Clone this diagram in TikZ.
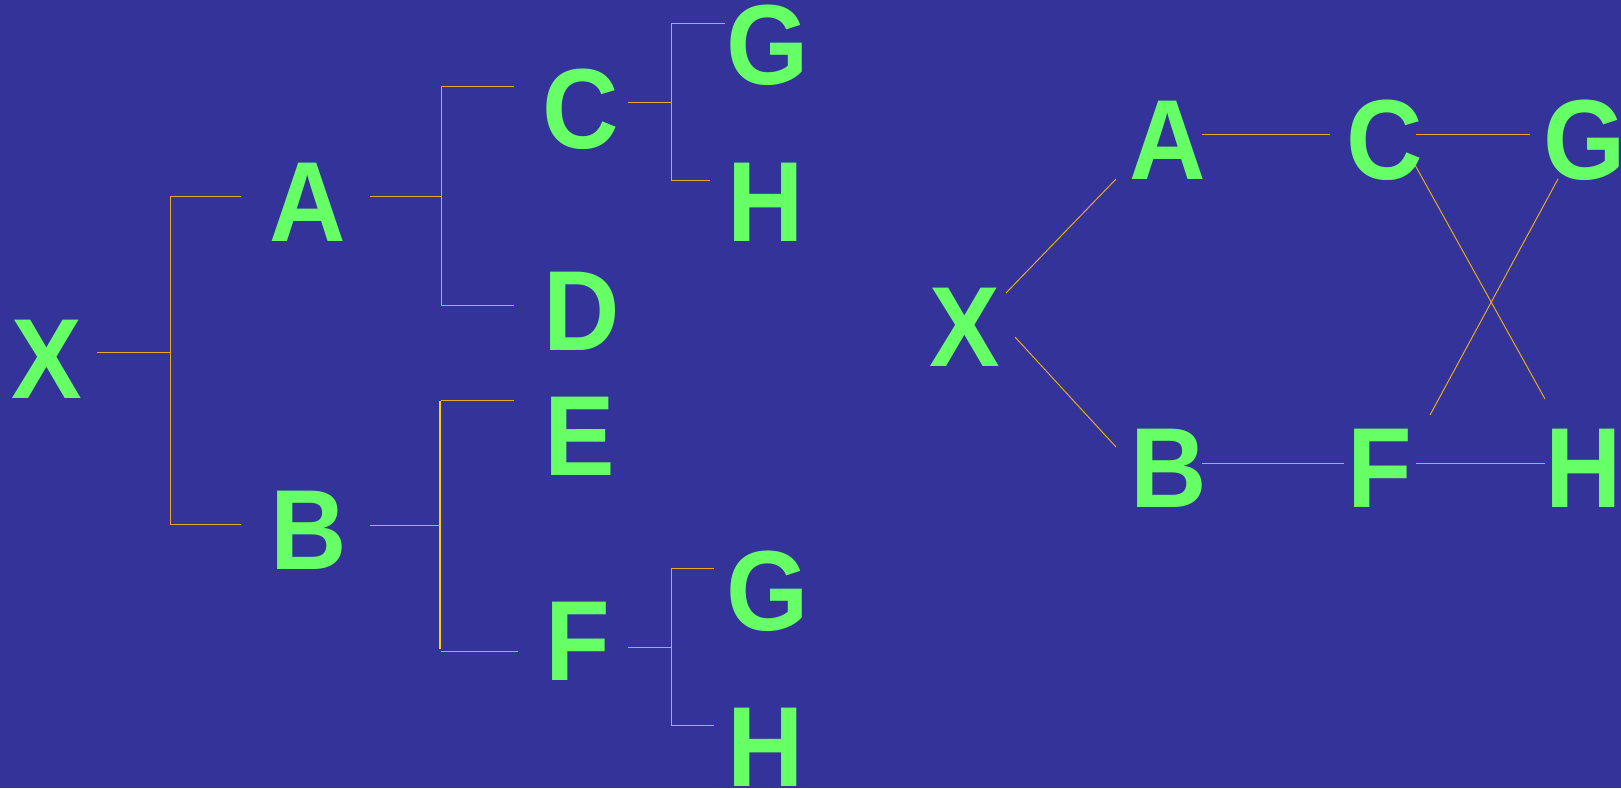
\documentclass[tikz,border=0pt]{standalone}
\usepackage{fontspec}
\setmainfont{Liberation Sans}
\definecolor{bgblue}{RGB}{51,51,153}
\definecolor{leaf}{RGB}{102,255,102}
\definecolor{wire}{RGB}{232,170,24}
\definecolor{wirebright}{RGB}{255,204,0}
% capitals set slightly taller than the font's own proportions
\newcommand{\tallcap}[1]{\scalebox{0.98}[1.055]{#1}}
\tikzset{
  letter/.style={text=leaf, font=\fontsize{108}{108}\selectfont\bfseries,
                 inner sep=0pt, outer sep=0pt, anchor=base},
  link/.style={draw=wire, line width=1pt},
  boldlink/.style={draw=wirebright, line width=2pt},
}
\begin{document}
\begin{tikzpicture}[x=1pt,y=-1pt]
\fill[bgblue] (0,0) rectangle (1621,788);
\useasboundingbox (0,0) rectangle (1621,788);

% ---------- bracket tree ----------
\node[letter] (lX)  at (47,398)  {\tallcap{X}};
\node[letter] (lA)  at (308,241) {\tallcap{A}};
\node[letter] (lB)  at (309,569) {\tallcap{B}};
\node[letter] (lC)  at (581,148) {\tallcap{C}};
\node[letter] (lD)  at (582,350) {\tallcap{D}};
\node[letter] (lE)  at (580,475) {\tallcap{E}};
\node[letter] (lF)  at (578,680) {\tallcap{F}};
\node[letter] (lG1) at (768,84)  {\tallcap{G}};
\node[letter] (lH1) at (766,241) {\tallcap{H}};
\node[letter] (lG2) at (768,630) {\tallcap{G}};
\node[letter] (lH2) at (766,786) {\tallcap{H}};

% junction points of the brackets
\coordinate (xOut) at (97,352);   \coordinate (xJ) at (170,352);
\coordinate (xTop) at (170,196);  \coordinate (xBot) at (170,524);
\coordinate (aIn)  at (241,196);  \coordinate (bIn)  at (241,524);

\coordinate (aOut) at (370,196);  \coordinate (aJ) at (441,196);
\coordinate (aTop) at (441,86);   \coordinate (aBot) at (441,305);
\coordinate (cIn)  at (514,86);   \coordinate (dIn)  at (514,305);

\coordinate (bOut) at (370,525);  \coordinate (bJ) at (440,525);
\coordinate (bTop) at (440,401);  \coordinate (bBot) at (440,649);
\coordinate (eFrom) at (441,400); \coordinate (eIn) at (514,400);
\coordinate (fFrom) at (441,651); \coordinate (fIn) at (518,651);

\coordinate (cOut) at (628,102);  \coordinate (cJ) at (671,102);
\coordinate (cTop) at (671,23);   \coordinate (cBot) at (671,180);
\coordinate (g1In) at (725,23);   \coordinate (h1In) at (710,180);

\coordinate (fOut) at (628,647);  \coordinate (fJ) at (671,647);
\coordinate (fTop) at (671,568);  \coordinate (fBot) at (671,725);
\coordinate (g2In) at (714,568);  \coordinate (h2In) at (714,725);

\draw[link] (xOut) -- (xJ);
\draw[link] (aIn) -- (xTop) -- (xBot) -- (bIn);

\draw[link] (aOut) -- (aJ);
\draw[link] (cIn) -- (aTop) -- (aBot) -- (dIn);

\draw[link] (bOut) -- (bJ);
\draw[boldlink] (bTop) -- (bBot);
\draw[link] (eFrom) -- (eIn);
\draw[link] (fFrom) -- (fIn);

\draw[link] (cOut) -- (cJ);
\draw[link] (g1In) -- (cTop) -- (cBot) -- (h1In);

\draw[link] (fOut) -- (fJ);
\draw[link] (g2In) -- (fTop) -- (fBot) -- (h2In);

% ---------- graph ----------
\node[letter] (rX) at (965,366)  {\tallcap{X}};
\node[letter] (rA) at (1168,179) {\tallcap{A}};
\node[letter] (rC) at (1385,179) {\tallcap{C}};
\node[letter] (rG) at (1585,179) {\tallcap{G}};
\node[letter] (rB) at (1169,507) {\tallcap{B}};
\node[letter] (rF) at (1380,507) {\tallcap{F}};
\node[letter] (rH) at (1584,507) {\tallcap{H}};

\coordinate (xa1) at (1006,293);  \coordinate (xa2) at (1116,179);
\coordinate (xb1) at (1015,337);  \coordinate (xb2) at (1116,447);
\coordinate (ac1) at (1202,134);  \coordinate (ac2) at (1330,134);
\coordinate (cg1) at (1416,134);  \coordinate (cg2) at (1530,134);
\coordinate (ch1) at (1415,165);  \coordinate (ch2) at (1545,399);
\coordinate (gf1) at (1558,179);  \coordinate (gf2) at (1430,415);
\coordinate (bf1) at (1202,463);  \coordinate (bf2) at (1344,463);
\coordinate (fh1) at (1416,463);  \coordinate (fh2) at (1545,463);

\draw[link] (xa1) -- (xa2);
\draw[link] (xb1) -- (xb2);
\draw[link] (ac1) -- (ac2);
\draw[link] (cg1) -- (cg2);
\draw[link] (ch1) -- (ch2);
\draw[link] (gf1) -- (gf2);
\draw[link] (bf1) -- (bf2);
\draw[link] (fh1) -- (fh2);
\end{tikzpicture}
\end{document}
